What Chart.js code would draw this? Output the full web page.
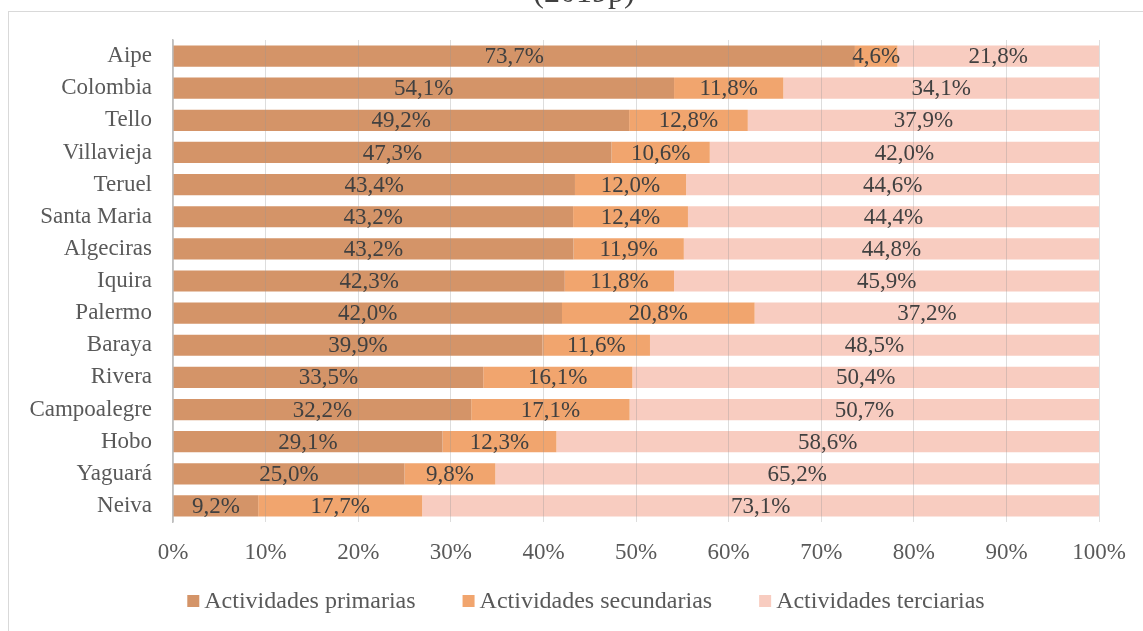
<!DOCTYPE html>
<html>
<head>
<meta charset="utf-8">
<script src="https://cdn.jsdelivr.net/npm/chart.js@4/dist/chart.umd.min.js"></script>
<style>
  html, body { margin: 0; padding: 0; background: #fff; }
  #wrap { width: 1143px; height: 631px; position: relative; }
</style>
</head>
<body>
<div id="wrap"><canvas id="chart" width="1143" height="631"></canvas></div>
<script>
// Municipios (top to bottom)
const municipios = ["Aipe", "Colombia", "Tello", "Villavieja", "Teruel", "Santa Maria",
    "Algeciras", "Iquira", "Palermo", "Baraya", "Rivera", "Campoalegre", "Hobo", "Yaguará", "Neiva"];

// Share of each sector, %
const primarias   = [73.7, 54.1, 49.2, 47.3, 43.4, 43.2, 43.2, 42.3, 42.0, 39.9, 33.5, 32.2, 29.1, 25.0, 9.2];
const secundarias = [4.6, 11.8, 12.8, 10.6, 12.0, 12.4, 11.9, 11.8, 20.8, 11.6, 16.1, 17.1, 12.3, 9.8, 17.7];
const terciarias  = [21.8, 34.1, 37.9, 42.0, 44.6, 44.4, 44.8, 45.9, 37.2, 48.5, 50.4, 50.7, 58.6, 65.2, 73.1];

const seriesNames = ["Actividades primarias", "Actividades secundarias", "Actividades terciarias"];
const seriesColors = ["#D49468", "#F1A56E", "#F8CCC0"];
const titleText = "(2019p)";

const FONT = "'Liberation Serif', 'Times New Roman', serif";

// 100% stacked: scale every row so it fills the axis (labels keep raw values)
const rawSeries = [primarias, secundarias, terciarias];
const totals = municipios.map((_, j) => rawSeries.reduce((s, arr) => s + arr[j], 0));
const asShare = arr => arr.map((v, j) => v / totals[j] * 100);

// frame + cut-off title behind everything
const framePlugin = {
    id: "frame",
    beforeDraw(chart) {
        const ctx = chart.ctx;
        ctx.save();
        ctx.strokeStyle = "#D9D9D9";
        ctx.lineWidth = 1;
        ctx.strokeRect(8.5, 11.5, 1200, 700);
        ctx.fillStyle = "#404040";
        ctx.font = "32px " + FONT;
        ctx.textAlign = "center";
        ctx.textBaseline = "alphabetic";
        ctx.fillText(titleText, 584, 2);
        ctx.restore();
    }
};

// value labels centred in each segment
const valueLabels = {
    id: "valueLabels",
    afterDraw(chart) {
        const ctx = chart.ctx;
        ctx.save();
        ctx.font = "23px " + FONT;
        ctx.fillStyle = "#404040";
        ctx.textAlign = "center";
        ctx.textBaseline = "middle";
        chart.data.datasets.forEach((ds, i) => {
            chart.getDatasetMeta(i).data.forEach((bar, j) => {
                const txt = ds.raw[j].toFixed(1).replace(".", ",") + "%";
                ctx.fillText(txt, (bar.x + bar.base) / 2, bar.y + 1);
            });
        });
        ctx.restore();
    }
};

// Excel-like legend: small square, tight gap to text, wide gap between items
const legendRow = {
    id: "legendRow",
    afterDraw(chart) {
        const ctx = chart.ctx;
        const box = 12, gapText = 5, gapItem = 47, cy = 601, cx = 586;
        ctx.save();
        ctx.font = "24px " + FONT;
        ctx.textBaseline = "middle";
        ctx.textAlign = "left";
        const widths = seriesNames.map(n => ctx.measureText(n).width);
        const total = widths.reduce((s, w) => s + box + gapText + w, 0) + gapItem * (seriesNames.length - 1);
        let x = cx - total / 2;
        seriesNames.forEach((n, i) => {
            ctx.fillStyle = seriesColors[i];
            ctx.fillRect(x, cy - box / 2, box, box);
            ctx.fillStyle = "#595959";
            ctx.fillText(n, x + box + gapText, cy + 1);
            x += box + gapText + widths[i] + gapItem;
        });
        ctx.restore();
    }
};

new Chart(document.getElementById("chart"), {
    type: "bar",
    data: {
        labels: municipios,
        datasets: rawSeries.map((arr, i) => ({
            label: seriesNames[i],
            data: asShare(arr),
            raw: arr,
            backgroundColor: seriesColors[i]
        }))
    },
    plugins: [framePlugin, valueLabels, legendRow],
    options: {
        indexAxis: "y",
        responsive: false,
        animation: false,
        datasets: { bar: { categoryPercentage: 1, barPercentage: 0.66 } },
        layout: { padding: { top: 40, right: 39, bottom: 52, left: 0 } },
        scales: {
            x: {
                stacked: true,
                min: 0,
                max: 100,
                ticks: {
                    stepSize: 10,
                    padding: 17,
                    color: "#595959",
                    font: { family: FONT, size: 23 },
                    callback: v => v + "%"
                },
                grid: { color: "rgba(150,150,150,0.32)", drawTicks: false, z: 1 },
                border: { display: false },
                afterFit: s => { s.height = 57; }
            },
            y: {
                stacked: true,
                ticks: {
                    padding: 21,
                    color: "#595959",
                    font: { family: FONT, size: 23 }
                },
                grid: { display: false, drawTicks: false },
                border: { color: "#BFBFBF", width: 1.5 },
                afterFit: s => { s.width = 173; }
            }
        },
        plugins: {
            legend: { display: false },
            tooltip: { enabled: false }
        }
    }
});
</script>
</body>
</html>
